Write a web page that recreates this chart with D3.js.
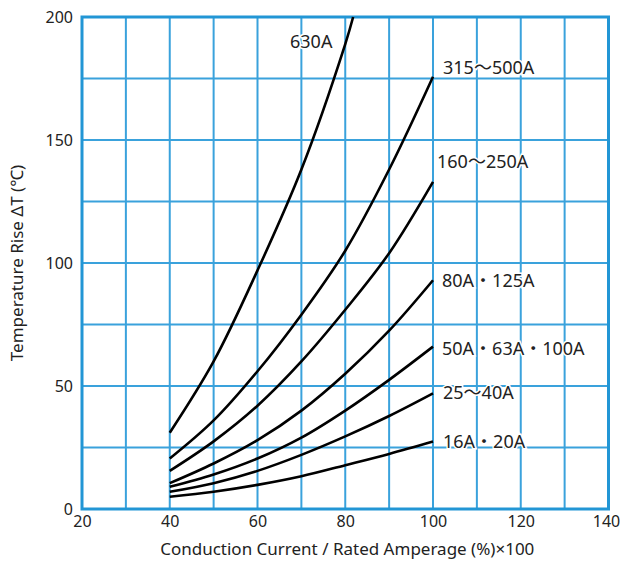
<!DOCTYPE html>
<html>
<head>
<meta charset="utf-8">
<script src="https://cdn.jsdelivr.net/npm/d3@7"></script>
<style>
  html, body { margin: 0; padding: 0; background: #fff; }
  svg { display: block; }
  text { font-family: "Noto Sans", "Noto Sans CJK JP", sans-serif; fill: #222; }
</style>
</head>
<body>
<svg id="chart" width="621" height="565"></svg>
<script>
// ---- data ----
const xTicks = [20, 40, 60, 80, 100, 120, 140];
const yTicks = [0, 50, 100, 150, 200];
const xGrid = [30, 40, 50, 60, 70, 80, 90, 100, 110, 120, 130];
const yGrid = [25, 50, 75, 100, 125, 150, 175];

const seriesNames = ["630A", "315〜500A", "160〜250A", "80A・125A", "50A・63A・100A", "25〜40A", "16A・20A"];
const xStd = [40, 50, 60, 70, 80, 90, 100];
const x630 = [40, 50, 60, 70, 80, 81.8];
const y630 = [31, 60, 97, 138, 189, 200];
const y315 = [20.5, 36, 56, 79, 105, 138, 175.7];
const y160 = [15.5, 27.5, 42, 60, 81, 104, 133];
const y80 = [10.5, 18.5, 28, 40, 55, 72.5, 93];
const y50 = [9, 14, 20.5, 29, 40, 52.5, 66];
const y25 = [7, 10.5, 15.5, 22, 29.5, 37.8, 47];
const y16 = [5, 7, 9.8, 13.3, 17.8, 22.4, 27.4];

const xLabel = "Conduction Current / Rated Amperage (%)×100";
const yLabel = "Temperature Rise ΔT (℃)";

// ---- layout ----
const L = 82, R = 608.5, T = 17, B = 509;
const svg = d3.select("#chart");
const x = d3.scaleLinear().domain([20, 140]).range([L, R]);
const y = d3.scaleLinear().domain([0, 200]).range([B, T]);

const gridColor = "#3aa2dc";
const borderColor = "#2296d5";

// grid
svg.append("g").selectAll("line").data(xGrid).join("line")
  .attr("x1", d => x(d)).attr("x2", d => x(d))
  .attr("y1", T).attr("y2", B)
  .attr("stroke", gridColor).attr("stroke-width", 2);
svg.append("g").selectAll("line").data(yGrid).join("line")
  .attr("x1", L).attr("x2", R)
  .attr("y1", d => y(d)).attr("y2", d => y(d))
  .attr("stroke", gridColor).attr("stroke-width", 2);

// border
svg.append("rect")
  .attr("x", L).attr("y", T).attr("width", R - L).attr("height", B - T)
  .attr("fill", "none").attr("stroke", borderColor).attr("stroke-width", 3);

// axes (labels only)
const xAxis = d3.axisBottom(x).tickValues(xTicks).tickSize(0).tickPadding(6).tickFormat(d3.format("d"));
const gx = svg.append("g").attr("transform", `translate(0,${B + 1})`).call(xAxis);
gx.select(".domain").remove();
gx.selectAll("text").attr("font-size", 16).attr("fill", "#222")
  .style("font-family", '"Noto Sans", sans-serif');
gx.selectAll(".tick").filter(d => d === 140).select("text").attr("dx", -2.5);

const yAxis = d3.axisLeft(y).tickValues(yTicks).tickSize(0).tickPadding(9).tickFormat(d3.format("d"));
const gy = svg.append("g").attr("transform", `translate(${L},0)`).call(yAxis);
gy.select(".domain").remove();
gy.selectAll("text").attr("font-size", 16).attr("fill", "#222")
  .style("font-family", '"Noto Sans", sans-serif');

// axis titles
svg.append("text")
  .attr("x", (L + R) / 2 + 2).attr("y", 555)
  .attr("text-anchor", "middle").attr("font-size", 17)
  .text(xLabel);
svg.append("text")
  .attr("transform", `translate(23,${(T + B) / 2}) rotate(-90)`)
  .attr("text-anchor", "middle").attr("font-size", 17)
  .text(yLabel);

// curves
const seriesX = [x630, xStd, xStd, xStd, xStd, xStd, xStd];
const seriesY = [y630, y315, y160, y80, y50, y25, y16];
const line = d3.line().x(d => x(d[0])).y(d => y(d[1])).curve(d3.curveCatmullRom.alpha(0.5));
seriesY.forEach((ys, i) => {
  const pts = ys.map((v, j) => [seriesX[i][j], v]);
  svg.append("path").datum(pts)
    .attr("d", line)
    .attr("fill", "none").attr("stroke", "#000").attr("stroke-width", 2.6)
    .attr("stroke-linecap", "butt");
});

// series labels
const labelPos = [[290, 48], [443, 74], [437, 168], [442, 287], [442, 355], [443, 399], [443, 448]];
svg.append("g").selectAll("text").data(seriesNames).join("text")
  .attr("x", (d, i) => labelPos[i][0]).attr("y", (d, i) => labelPos[i][1])
  .attr("font-size", 18)
  .attr("stroke", "#fff").attr("stroke-width", 3).attr("paint-order", "stroke")
  .text(d => d);
</script>
</body>
</html>
